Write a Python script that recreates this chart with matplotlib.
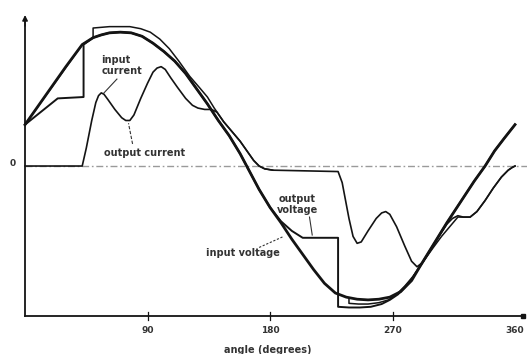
import numpy as np
import matplotlib
matplotlib.use("Agg")
import matplotlib.pyplot as plt

# ---- data (angle in degrees, value normalised to input voltage peak) ----
vin_deg = [0, 10, 20, 30, 42, 50, 56, 62, 70, 78, 86, 94, 102, 110, 118, 126, 134,
           142, 150, 158, 165, 172, 180, 188, 196, 204, 212, 220, 228, 236, 244,
           252, 260, 268, 276, 284, 290, 300, 310, 320, 330, 338, 345, 352, 360]
vin_val = [0.30, 0.44, 0.58, 0.72, 0.88, 0.93, 0.95, 0.965, 0.97, 0.965, 0.94,
           0.89, 0.83, 0.76, 0.67, 0.56, 0.45, 0.33, 0.22, 0.09, -0.04, -0.17,
           -0.30, -0.41, -0.53, -0.64, -0.75, -0.85, -0.92, -0.95, -0.965, -0.97,
           -0.965, -0.95, -0.91, -0.83, -0.73, -0.57, -0.41, -0.26, -0.11, 0.0,
           0.11, 0.20, 0.30]

vout_deg = [0, 24, 43, 43, 50, 56, 62, 70, 78, 86, 94, 102, 110, 118, 126, 134,
            142, 150, 158, 165, 172, 180, 188, 196, 204, 230, 230, 238, 246, 254,
            262, 268, 274, 279, 284, 290, 300, 310, 320, 330, 338, 345, 352, 360]
vout_val = [0.30, 0.49, 0.50, 0.88, 0.93, 0.95, 0.965, 0.97, 0.965, 0.94, 0.89,
            0.83, 0.76, 0.67, 0.56, 0.45, 0.33, 0.22, 0.09, -0.04, -0.17, -0.30,
            -0.40, -0.47, -0.52, -0.52, -1.02, -1.025, -1.025, -1.02, -1.0, -0.97,
            -0.93, -0.88, -0.82, -0.73, -0.57, -0.41, -0.26, -0.11, 0.0, 0.11,
            0.20, 0.30]

iout_deg = [0, 42, 45, 49, 52, 54, 56, 58, 61, 66, 71, 74, 77, 80, 85, 90, 94, 97,
            100, 103, 107, 112, 118, 123, 127, 132, 137, 141, 146, 152, 158, 163,
            168, 172, 176, 182, 230, 233, 238, 241, 244, 247, 252, 258, 262, 265,
            268, 273, 279, 284, 288, 292, 298, 304, 310, 314, 318, 322, 327, 332,
            338, 344, 350, 355, 358, 360]
iout_val = [0.0, 0.0, 0.13, 0.33, 0.46, 0.51, 0.53, 0.52, 0.48, 0.41, 0.35, 0.33,
            0.33, 0.37, 0.49, 0.60, 0.68, 0.71, 0.72, 0.70, 0.64, 0.57, 0.49, 0.44,
            0.42, 0.41, 0.41, 0.39, 0.32, 0.25, 0.18, 0.11, 0.04, 0.0, -0.02, -0.03,
            -0.04, -0.12, -0.38, -0.51, -0.56, -0.55, -0.47, -0.38, -0.34, -0.33,
            -0.35, -0.44, -0.58, -0.69, -0.73, -0.70, -0.61, -0.51, -0.42, -0.38,
            -0.36, -0.37, -0.37, -0.33, -0.25, -0.16, -0.08, -0.03, -0.01, 0.0]

iin_deg = [0, 42, 50, 50, 56, 62, 70, 77, 85, 92, 99, 106, 113, 121, 128, 134,
           139, 146, 152, 158, 163, 168, 172, 176, 182, np.nan,
           238, 238, 245, 252, 260, 267, 273, 279, 285, 292, 300, 306, 312, 318,
           322, 327, 332, 338, 344, 350, 355, 358, 360]
iin_val = [0.30, 0.88, 0.93, 1.00, 1.005, 1.01, 1.01, 1.01, 0.995, 0.97, 0.92,
           0.85, 0.76, 0.65, 0.57, 0.50, 0.42, 0.32, 0.25, 0.18, 0.11, 0.04, 0.0,
           -0.02, -0.03, np.nan,
           -0.955, -0.995, -1.0, -1.0, -0.99, -0.97, -0.93, -0.87, -0.80, -0.70,
           -0.59, -0.51, -0.44, -0.37, -0.37, -0.37, -0.33, -0.25, -0.16, -0.08,
           -0.03, -0.01, 0.0]

xtick_vals = [90, 180, 270, 360]
xtick_labels = ["90", "180", "270", "360"]

# ---- figure ----
fig = plt.figure(figsize=(5.27, 3.54), dpi=100)
ax = fig.add_axes([0, 0, 1, 1])
ax.set_xlim(-18.4, 368.8)
ax.set_ylim(-1.362, 1.203)
ax.axis("off")

ink = "#141414"
# zero reference line (dash-dot grey)
ax.plot([0, 368.8], [0, 0], color="#9a9a9a", lw=1.0, ls=(0, (5, 2, 1.2, 2)), zorder=1)

# axes
y_axis_top = 1.094
x_axis_y = -1.087
ax.plot([0, 0], [x_axis_y, y_axis_top - 0.05], color=ink, lw=1.3, zorder=3)
ax.annotate("", xy=(0, y_axis_top), xytext=(0, y_axis_top - 0.08),
            arrowprops=dict(arrowstyle="-|>", color=ink, lw=1.0,
                            mutation_scale=8, shrinkA=0, shrinkB=0))
ax.plot([0, 366], [x_axis_y, x_axis_y], color=ink, lw=1.3, zorder=3)
for xv in xtick_vals[:-1]:
    ax.plot([xv, xv], [x_axis_y - 0.03, x_axis_y + 0.03], color=ink, lw=0.9)
ax.plot([366], [x_axis_y], marker="s", ms=2.5, color=ink)
for xv, lab in zip(xtick_vals, xtick_labels):
    ax.text(xv, -1.19, lab, ha="center", va="center", fontsize=6.5,
            fontweight="bold", color="#333333")
ax.text(178, -1.33, "angle (degrees)", ha="center", va="center", fontsize=7,
        color="#333333", fontweight="bold")
ax.text(-9, 0.02, "0", ha="center", va="center", fontsize=6.5,
        fontweight="bold", color="#333333")

# curves
ax.plot(iin_deg, iin_val, color=ink, lw=1.1, zorder=4, solid_joinstyle="round")
ax.plot(iout_deg, iout_val, color=ink, lw=1.2, zorder=4, solid_joinstyle="round")
ax.plot(vout_deg, vout_val, color=ink, lw=1.4, zorder=5, solid_joinstyle="round")
ax.plot(vin_deg, vin_val, color=ink, lw=2.0, zorder=6, solid_joinstyle="round")

# labels with leader lines
lab_kw = dict(fontsize=7, color="#333333", fontweight="bold")
ax.text(56, 0.73, "input\ncurrent", ha="left", va="center", linespacing=1.1, **lab_kw)
ax.plot([67.5, 58], [0.63, 0.53], color="#333333", lw=0.8)
ax.text(88, 0.095, "output current", ha="center", va="center", **lab_kw)
ax.plot([79, 76], [0.16, 0.31], color="#333333", lw=0.8, ls=(0, (3, 1.5)))
ax.text(200, -0.28, "output\nvoltage", ha="center", va="center", linespacing=1.1, **lab_kw)
ax.plot([209, 211], [-0.37, -0.50], color="#333333", lw=0.8)
ax.text(160, -0.63, "input voltage", ha="center", va="center", **lab_kw)
ax.plot([172, 190], [-0.59, -0.51], color="#333333", lw=0.8, ls=(0, (2, 1.5)))

fig.savefig("out.png", dpi=100)
